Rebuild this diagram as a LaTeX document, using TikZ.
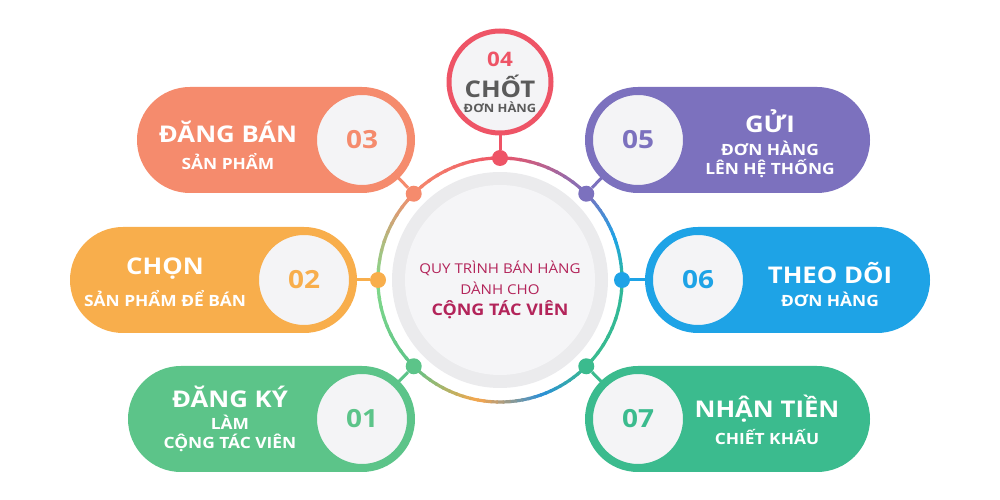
\documentclass[tikz,border=0pt]{standalone}
\usepackage{fontspec}
\setmainfont{Open Sans}[FakeStretch=1.12]
\definecolor{cthree}{HTML}{F58B6D}
\definecolor{ctwo}{HTML}{F8AE4C}
\definecolor{cone}{HTML}{5CC489}
\definecolor{cfour}{HTML}{EE5466}
\definecolor{cfive}{HTML}{7C71BE}
\definecolor{csix}{HTML}{1EA3E6}
\definecolor{cseven}{HTML}{3BBB8E}
\definecolor{numfill}{HTML}{F4F4F6}
\definecolor{diskout}{HTML}{EBEBED}
\definecolor{diskin}{HTML}{F5F5F7}
\definecolor{ctitle}{HTML}{B3245A}
\definecolor{cgrey}{HTML}{5B5B5B}
\definecolor{rteal}{HTML}{2EB89A}
\definecolor{rblue}{HTML}{2A8FD8}
\definecolor{rorange}{HTML}{F8A54C}
\definecolor{rlgreen}{HTML}{84D98A}
\tikzset{
  pill/.style={rectangle, rounded corners=52.9pt, minimum height=106pt, inner sep=0pt},
  numc/.style={circle, fill=numfill, line width=4pt, minimum size=94pt, inner sep=0pt, font=\bfseries\fontsize{25}{27}\selectfont},
  dotc/.style={circle, minimum size=16pt, inner sep=0pt},
  ttl/.style={text=white, font=\bfseries\fontsize{23}{25}\selectfont, inner sep=0pt},
  sub/.style={text=white, font=\bfseries\fontsize{15.5}{17}\selectfont, inner sep=0pt},
  link/.style={line width=3pt},
}
\begin{document}
\begin{tikzpicture}[x=1pt,y=1pt]
\useasboundingbox (0,0) rectangle (1000,500);
% center disk
\coordinate (cen) at (500,220);
\fill[diskout] (cen) circle (108);
\fill[diskin] (cen) circle (95);
% gradient ring
\foreach \a/\b/\ca/\cb in {90/45/cfour/cfive, 45/20/cfive/csix, 20/0/csix/rteal, 0/-45/rteal/cseven, -45/-70/cseven/rblue, -70/-100/rblue/rorange, -100/-135/rorange/cone, -135/-180/cone/rlgreen, 180/135/rlgreen/cthree, 135/90/cthree/cfour}{
  \foreach \i in {0,...,9}{
    \pgfmathsetmacro{\s}{\a+(\b-\a)*\i/10}
    \pgfmathsetmacro{\e}{\a+(\b-\a)*(\i+1)/10+(\b-\a)/40}
    \pgfmathtruncatemacro{\p}{\i*10+5}
    \draw[line width=3.2pt, color=\cb!\p!\ca] ([shift={(\s:122)}]cen) arc[start angle=\s, end angle=\e, radius=122];
  }
}
% dots
\node[dotc, fill=cone] (d1) at ([shift={(-135:122)}]cen) {};
\node[dotc, fill=ctwo] (d2) at ([shift={(180:122)}]cen) {};
\node[dotc, fill=cthree] (d3) at ([shift={(135:122)}]cen) {};
\node[dotc, fill=cfour] (d4) at ([shift={(90:122)}]cen) {};
\node[dotc, fill=cfive] (d5) at ([shift={(45:122)}]cen) {};
\node[dotc, fill=csix] (d6) at ([shift={(0:122)}]cen) {};
\node[dotc, fill=cseven] (d7) at ([shift={(-45:122)}]cen) {};
% center text
\node[text=ctitle, font=\fontsize{13.5}{15}\selectfont, inner sep=0pt] (ct1) at (500,232) {QUY TRÌNH BÁN HÀNG};
\node[text=ctitle, font=\fontsize{13.5}{15}\selectfont, inner sep=0pt] (ct2) at (500,212) {DÀNH CHO};
\node[text=ctitle, font=\bfseries\fontsize{16}{18}\selectfont, inner sep=0pt] (ct3) at (500,190) {CỘNG TÁC VIÊN};
% pills
\node[pill, fill=cthree, minimum width=278pt] (p3) at (276,360) {};
\node[pill, fill=ctwo, minimum width=287pt] (p2) at (213.5,220) {};
\node[pill, fill=cone, minimum width=287pt] (p1) at (271.5,81) {};
\node[pill, fill=cfive, minimum width=285pt] (p5) at (727.5,360) {};
\node[pill, fill=csix, minimum width=285pt] (p6) at (787.5,220) {};
\node[pill, fill=cseven, minimum width=285pt] (p7) at (727.5,81) {};
% number circles
\node[numc, draw=cthree, text=cthree] (n3) at (362,360) {03};
\node[numc, draw=ctwo, text=ctwo] (n2) at (304,220) {02};
\node[numc, draw=cone, text=cone] (n1) at (362,81) {01};
\node[numc, draw=cfive, text=cfive] (n5) at (638,360) {05};
\node[numc, draw=csix, text=csix] (n6) at (698,220) {06};
\node[numc, draw=cseven, text=cseven] (n7) at (638,81) {07};
\node[circle, fill=numfill, draw=cfour, line width=5pt, minimum size=102pt, inner sep=0pt] (n4) at (500,418) {};
% links
\draw[link, cthree] (d3) -- (n3);
\draw[link, ctwo] (d2) -- (n2);
\draw[link, cone] (d1) -- (n1);
\draw[link, cfour] (d4) -- (n4);
\draw[link, cfive] (d5) -- (n5);
\draw[link, csix] (d6) -- (n6);
\draw[link, cseven] (d7) -- (n7);
% 04 texts
\node[text=cfour, font=\bfseries\fontsize{20}{22}\selectfont, inner sep=0pt] (t4a) at (500,441) {04};
\node[text=cgrey, font=\bfseries\fontsize{23}{25}\selectfont, inner sep=0pt] (t4b) at (500,414) {CHỐT};
\node[text=cgrey, font=\bfseries\fontsize{11.5}{13}\selectfont, inner sep=0pt] (t4c) at (500,393) {ĐƠN HÀNG};
% pill texts
\node[ttl] (t3a) at (228,368) {ĐĂNG BÁN};
\node[sub] (t3b) at (228,338) {SẢN PHẨM};
\node[ttl] (t2a) at (165,231) {CHỌN};
\node[sub] (t2b) at (165,201) {SẢN PHẨM ĐỂ BÁN};
\node[ttl] (t1a) at (230,103) {ĐĂNG KÝ};
\node[sub] (t1b) at (230,78) {LÀM};
\node[sub] (t1c) at (230,57) {CỘNG TÁC VIÊN};
\node[ttl] (t5a) at (770,379) {GỬI};
\node[sub] (t5b) at (770,352) {ĐƠN HÀNG};
\node[sub] (t5c) at (770,331) {LÊN HỆ THỐNG};
\node[ttl] (t6a) at (830,227) {THEO DÕI};
\node[sub] (t6b) at (830,201) {ĐƠN HÀNG};
\node[ttl] (t7a) at (767,91) {NHẬN TIỀN};
\node[sub] (t7b) at (767,63) {CHIẾT KHẤU};
\end{tikzpicture}
\end{document}
